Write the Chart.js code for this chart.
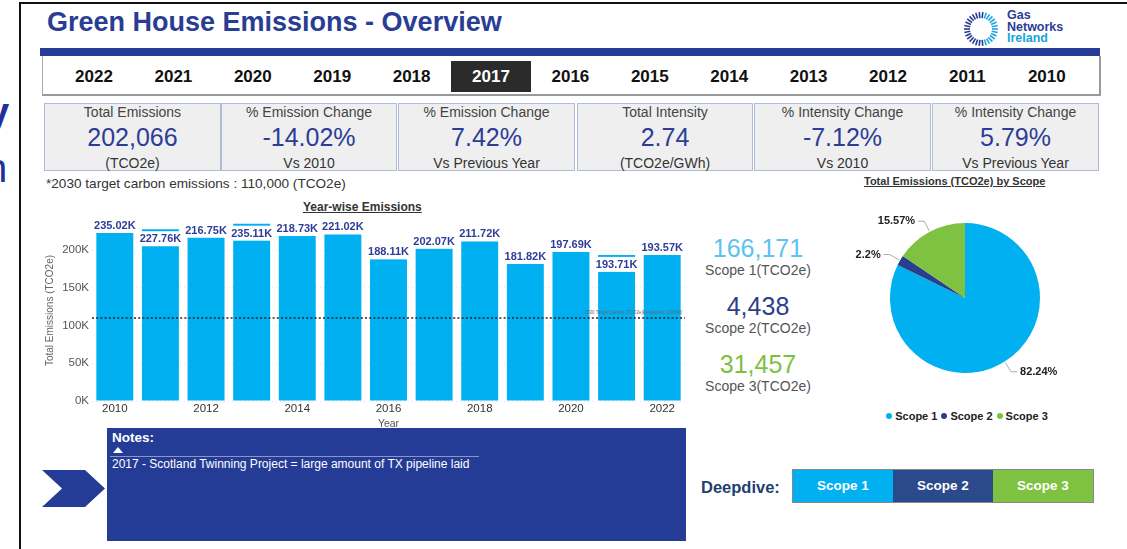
<!DOCTYPE html>
<html><head><meta charset="utf-8">
<script src="https://cdn.jsdelivr.net/npm/chart.js@4.4.0/dist/chart.umd.min.js"></script>
<style>
body{margin:0;width:1127px;height:549px;overflow:hidden;background:#fff;font-family:"Liberation Sans",Arial,sans-serif;position:relative}
.a{position:absolute}
#title{left:47px;top:7px;font-size:27px;font-weight:bold;color:#2a3d94;white-space:nowrap}
#bar{left:40px;top:48px;width:1060px;height:8px;background:#263c96}
#slicer{left:42px;top:56px;width:1056px;height:38px;border-left:1px solid #aaa;border-right:2px solid #999;border-bottom:2px solid #999}
.yr{position:absolute;top:5px;width:79.4px;height:31px;line-height:32px;text-align:center;font-weight:bold;font-size:17px;color:#111}
.yr.sel{background:#2b2b2b;color:#fff}
.card{position:absolute;top:103px;height:66px;background:#efefef;border:1px solid #aebbd9;text-align:center}
.card .t{font-size:14px;color:#444;margin-top:0px;line-height:16px}
.card .v{font-size:25px;color:#2b3d96;line-height:35px}
.card .s{font-size:14px;color:#333;line-height:16px}
#target{left:46px;top:176px;font-size:13.6px;color:#333;white-space:nowrap}
.ut{font-weight:bold;text-decoration:underline;color:#333;white-space:nowrap}
.sc{position:absolute;width:120px;text-align:center;left:698px}
.sc .n{font-size:25px;line-height:28px}
.sc .l{font-size:14px;color:#555;line-height:17px}
#notes{left:107px;top:428px;width:579px;height:113px;background:#253c97;color:#fff}
#deep{left:701px;top:478px;font-size:16.5px;font-weight:bold;color:#1f3f70}
#btns{left:792px;top:469px;width:300px;height:32px;border:1px solid #888;display:flex}
#btns div{flex:1;color:#fff;font-weight:bold;font-size:13.5px;line-height:32px;text-align:center}
#legend{left:865px;top:410px;width:200px;text-align:center;font-size:11px;font-weight:bold;color:#222;white-space:nowrap}
#legend span.d{display:inline-block;width:6px;height:6px;border-radius:3px;margin:0 3px 1px 4px}
</style></head><body>
<!-- frame -->
<div class="a" style="left:20px;top:2px;width:1107px;height:2px;background:#111"></div>
<div class="a" style="left:19px;top:2px;width:2px;height:547px;background:#111"></div>
<div class="a" style="left:-13px;top:92px;font-size:40px;font-weight:bold;color:#22309a;line-height:40px">y</div>
<div class="a" style="left:-15px;top:148px;font-size:40px;color:#22309a;line-height:40px">n</div>

<div id="title" class="a">Green House Emissions - Overview</div>
<svg class="a" style="left:960px;top:10px" width="42" height="40" viewBox="0 0 42 40" id="logo"></svg>
<div class="a" style="left:1007px;top:10px;font-size:12.5px;font-weight:bold;line-height:11.5px;color:#2b3d96">Gas<br>Networks<br><span style="color:#18a3e0">Ireland</span></div>
<div id="bar" class="a"></div>
<div id="slicer" class="a"></div>
<div id="cards"></div>
<div id="target" class="a">*2030 target carbon emissions : 110,000 (TCO2e)</div>

<div class="a ut" style="left:303px;top:200px;font-size:12px">Year-wise Emissions</div>
<div class="a" style="left:40px;top:202px;width:650px;height:230px"><canvas id="barChart" width="650" height="230"></canvas></div>

<div id="scopes"></div>

<div class="a ut" style="left:864px;top:175px;font-size:11px">Total Emissions (TCO2e) by Scope</div>
<div class="a" style="left:840px;top:200px;width:250px;height:196px"><canvas id="pieChart" width="250" height="196"></canvas></div>
<div id="legend" class="a"></div>

<svg class="a" style="left:40px;top:468px" width="68" height="42"><polygon points="2,2 45,2 65,20.5 45,39 2,39 22,20.5" fill="#253c97"/></svg>
<div id="notes" class="a">
  <div style="position:absolute;left:5px;top:2px;font-weight:bold;font-size:13.5px">Notes:</div>
  <div style="position:absolute;left:6px;top:19px;width:0;height:0;border-left:5px solid transparent;border-right:5px solid transparent;border-bottom:6px solid #fff"></div>
  <div style="position:absolute;left:3px;top:28px;width:369px;height:1px;background:#8a96c8"></div>
  <div id="noteTxt" style="position:absolute;left:5px;top:29px;font-size:12px;white-space:nowrap"></div>
</div>
<div id="deep" class="a">Deepdive:</div>
<div id="btns" class="a"></div>

<script>
// ---------- data ----------
const years = ['2010','2011','2012','2013','2014','2015','2016','2017','2018','2019','2020','2021','2022'];
const totalEmissions = [235020, 227760, 216750, 235110, 218730, 221020, 188110, 202070, 211720, 181820, 197690, 193710, 193570];
const targetEmission = 110000;
const slicerYears = ['2022','2021','2020','2019','2018','2017','2016','2015','2014','2013','2012','2011','2010'];
const selectedYear = '2017';
const kpiTitles = ['Total Emissions','% Emission Change','% Emission Change','Total Intensity','% Intensity Change','% Intensity Change'];
const kpiValues = ['202,066','-14.02%','7.42%','2.74','-7.12%','5.79%'];
const kpiSubs = ['(TCO2e)','Vs 2010','Vs Previous Year','(TCO2e/GWh)','Vs 2010','Vs Previous Year'];
const scopeLabels = ['Scope 1','Scope 2','Scope 3'];
const scopeValues = [166171, 4438, 31457];
const yTicks = [0, 50000, 100000, 150000, 200000];
const noteText = '2017 - Scotland Twinning Project = large amount of TX pipeline laid';

const scopeColors = ['#01b0f0','#283f8c','#7fc241'];
const scopeNumColors = ['#5cc3f0','#2e3f88','#7dc142'];

// ---------- static layout ----------
document.getElementById('noteTxt').textContent = noteText;
const sl = document.getElementById('slicer');
slicerYears.forEach((y,i)=>{
  const d=document.createElement('div');
  d.className='yr'+(y===selectedYear?' sel':'');
  d.style.left=(11.3+i*79.4)+'px';
  d.textContent=y; sl.appendChild(d);
});
const cardX=[[44,175],[221,174],[398,175],[577,174],[754,175],[932,165]];
const cards=document.getElementById('cards');
kpiTitles.forEach((t,i)=>{
  const c=document.createElement('div'); c.className='card';
  c.style.left=cardX[i][0]+'px'; c.style.width=cardX[i][1]+'px';
  c.innerHTML='<div class="t">'+t+'</div><div class="v">'+kpiValues[i]+'</div><div class="s">'+kpiSubs[i]+'</div>';
  cards.appendChild(c);
});
const scopesDiv=document.getElementById('scopes');
scopeLabels.forEach((s,i)=>{
  const d=document.createElement('div'); d.className='sc';
  d.style.top=(234+i*58)+'px';
  d.innerHTML='<div class="n" style="color:'+scopeNumColors[i]+'">'+scopeValues[i].toLocaleString('en-US')+'</div><div class="l">'+s+'(TCO2e)</div>';
  scopesDiv.appendChild(d);
});
document.getElementById('legend').innerHTML=scopeLabels.map((s,i)=>'<span class="d" style="background:'+scopeColors[i]+'"></span>'+s).join('');
document.getElementById('btns').innerHTML=scopeLabels.map((s,i)=>'<div style="background:'+(i==1?'#2a4a8c':scopeColors[i])+'">'+s+'</div>').join('');
// logo
(function(){
  const svg=document.getElementById('logo'); let h='';
  const n=30;
  for(let k=0;k<n;k++){
    const a=k/n*Math.PI*2;
    const c=Math.cos(a), s=Math.sin(a);
    const col = (c>0.2)?'#1ea3e2':'#2b3990';
    h+='<line x1="'+(21+11*c)+'" y1="'+(19+11*s)+'" x2="'+(21+17*c)+'" y2="'+(19+17*s)+'" stroke="'+col+'" stroke-width="1.6"/>';
  }
  svg.innerHTML=h;
})();

// ---------- bar chart ----------
const insideLabels=[1,3,11];
const barLabelPlugin={
  id:'barLabels',
  afterDatasetsDraw(chart){
    const ctx=chart.ctx, meta=chart.getDatasetMeta(0), area=chart.chartArea;
    ctx.save();
    ctx.font='bold 11px "Liberation Sans", Arial, sans-serif';
    ctx.textAlign='center'; ctx.textBaseline='middle';
    meta.data.forEach((bar,i)=>{
      const v=chart.data.datasets[0].data[i];
      const txt=(v/1000).toFixed(2)+'K';
      const w=Math.max(ctx.measureText(txt).width+4, bar.width+2);
      let cy = insideLabels.includes(i) ? bar.y+9.5 : bar.y-7.5;
      if(cy-7.5 < area.top-2) cy = area.top-2+7.5;
      ctx.fillStyle='#fff';
      ctx.fillRect(bar.x-w/2, cy-7.5, w, 15);
      ctx.fillStyle='#2e3d98';
      ctx.fillText(txt, bar.x, cy+0.5);
    });
    ctx.restore();
  }
};
const targetPlugin={
  id:'targetLine',
  afterDatasetsDraw(chart){
    const ctx=chart.ctx, y=chart.scales.y.getPixelForValue(targetEmission), a=chart.chartArea;
    ctx.save();
    ctx.strokeStyle='#222'; ctx.lineWidth=1.6; ctx.setLineDash([2,2.2]);
    ctx.beginPath(); ctx.moveTo(a.left,y); ctx.lineTo(a.right,y); ctx.stroke();
    ctx.setLineDash([]);
    ctx.font='4.5px "Liberation Sans", Arial, sans-serif';
    ctx.fillStyle='#666'; ctx.textAlign='right'; ctx.textBaseline='bottom';
    ctx.fillText('2030 Target Carbon (TCO2e)Emissions: '+targetEmission.toLocaleString('en-US'), a.right-3, y-3);
    ctx.restore();
  }
};
new Chart(document.getElementById('barChart'),{
  type:'bar',
  data:{labels:years,datasets:[{data:totalEmissions,backgroundColor:'#01b0f0',categoryPercentage:1,barPercentage:0.81}]},
  options:{
    responsive:false,animation:false,
    layout:{padding:{top:18,right:5,left:0,bottom:0}},
    plugins:{legend:{display:false},tooltip:{enabled:false}},
    scales:{
      x:{
        grid:{display:false,drawTicks:false},border:{display:false},
        ticks:{autoSkip:false,maxRotation:0,padding:1,color:'#333',font:{size:11.5,family:'"Liberation Sans", Arial'},
          callback:function(v,i){return i%2===0?this.getLabelForValue(v):'';}},
        title:{display:true,text:'Year',color:'#555',font:{size:10.5,family:'"Liberation Sans", Arial'},padding:{top:0,bottom:2}},
        afterFit(s){s.height=31;}
      },
      y:{
        min:0,max:240000,
        afterBuildTicks(s){s.ticks=yTicks.map(v=>({value:v}));},
        grid:{color:'#e4e4e4',drawTicks:false,lineWidth:1},
        border:{display:false,dash:[1,3]},
        ticks:{padding:3,color:'#555',font:{size:11.5,family:'"Liberation Sans", Arial'},callback:v=>(v/1000)+'K'},
        title:{display:true,text:'Total Emissions (TCO2e)',color:'#666',font:{size:10,family:'"Liberation Sans", Arial'},padding:{top:4,bottom:0}},
        afterFit(s){s.width=52;}
      }
    }
  },
  plugins:[barLabelPlugin,targetPlugin]
});

// ---------- pie chart ----------
const pieLabelPlugin={
  id:'pieLabels',
  afterDatasetsDraw(chart){
    const ctx=chart.ctx, meta=chart.getDatasetMeta(0);
    const data=chart.data.datasets[0].data, total=data.reduce((a,b)=>a+b,0);
    ctx.save();
    ctx.font='bold 11px "Liberation Sans", Arial, sans-serif';
    ctx.textBaseline='middle';
    meta.data.forEach((arc,i)=>{
      const mid=(arc.startAngle+arc.endAngle)/2, r=arc.outerRadius;
      const c=Math.cos(mid), s=Math.sin(mid);
      const x0=arc.x+(r+1)*c, y0=arc.y+(r+1)*s;
      const x1=arc.x+(r+12)*c, y1=arc.y+(r+12)*s;
      const dir=c>=0?1:-1;
      const x2=x1+6*dir;
      ctx.strokeStyle='#aaa'; ctx.lineWidth=1;
      ctx.beginPath(); ctx.moveTo(x0,y0); ctx.lineTo(x1,y1); ctx.lineTo(x2,y1); ctx.stroke();
      const pct=parseFloat((data[i]/total*100).toFixed(2))+'%';
      ctx.fillStyle='#222'; ctx.textAlign=dir>0?'left':'right';
      ctx.fillText(pct, x2+3*dir, y1);
    });
    ctx.restore();
  }
};
new Chart(document.getElementById('pieChart'),{
  type:'pie',
  data:{labels:scopeLabels,datasets:[{data:scopeValues,backgroundColor:scopeColors,borderWidth:0}]},
  options:{
    responsive:false,animation:false,
    layout:{padding:{top:23,bottom:23,left:50,right:50}},
    plugins:{legend:{display:false},tooltip:{enabled:false}}
  },
  plugins:[pieLabelPlugin]
});
</script>
</body></html>
